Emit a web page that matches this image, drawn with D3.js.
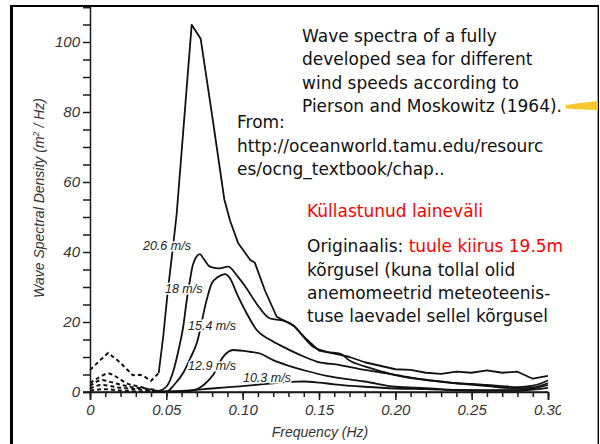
<!DOCTYPE html>
<html>
<head>
<meta charset="utf-8">
<script src="https://cdn.jsdelivr.net/npm/d3@7"></script>
<style>
    body { margin: 0; background: #fff; }
    svg { display: block; }
    .note { font-family: "DejaVu Sans", sans-serif; font-size: 17px; fill: #111; }
    .red { fill: #ff0000; }
</style>
</head>
<body>
<div class="chart"></div>
<script>
// wind speed of each curve
var speeds = ["20.6 m/s", "18 m/s", "15.4 m/s", "12.9 m/s", "10.3 m/s"];

// frequency (Hz) and spectral density (m^2/Hz)
var freq206 = [0, 0.006, 0.0118, 0.018, 0.023, 0.028, 0.033, 0.036, 0.040, 0.045, 0.048, 0.051, 0.0545, 0.0568, 0.0666, 0.0725, 0.080, 0.088, 0.0917, 0.097, 0.105, 0.108, 0.1146, 0.1223, 0.129, 0.134, 0.142, 0.150, 0.164, 0.17, 0.18, 0.19, 0.20, 0.21, 0.22, 0.23, 0.24, 0.25, 0.26, 0.27, 0.28, 0.29, 0.30];
var dens206 = [6.3, 8.8, 11.1, 9.1, 7, 4.8, 4.9, 4.3, 3.2, 5.4, 16, 29, 42, 51, 104.9, 100.9, 79, 55, 49, 42.6, 37.7, 36.9, 29, 21.5, 20, 18.7, 15, 11.8, 10.6, 10, 8.5, 7.5, 6.5, 6.3, 5.5, 5.2, 5.8, 5.5, 6.2, 5.5, 5.8, 3.8, 4.6];

var freq18 = [0, 0.006, 0.012, 0.017, 0.024, 0.033, 0.040, 0.045, 0.050, 0.0546, 0.058, 0.061, 0.0633, 0.0655, 0.0675, 0.072, 0.0742, 0.0786, 0.084, 0.0906, 0.096, 0.1026, 0.109, 0.1179, 0.1266, 0.1331, 0.1397, 0.1462, 0.155, 0.1637, 0.17, 0.18, 0.19, 0.20, 0.21, 0.22, 0.23, 0.24, 0.25, 0.26, 0.27, 0.28, 0.29, 0.30];
var dens18 = [2.5, 4.2, 5.3, 4.4, 2.5, 1.5, 0.6, 0.3, 1.5, 6, 12, 18.5, 26, 32, 36.5, 39.4, 38.2, 35.8, 35.3, 35.8, 33.4, 29.6, 25.3, 21, 20.4, 19.1, 15.8, 12.9, 11.5, 11, 9, 7.3, 6, 4.8, 4, 3.5, 3, 2.5, 2.3, 2, 1.7, 1.4, 1.8, 3.3];

var freq154 = [0, 0.0077, 0.013, 0.021, 0.029, 0.040, 0.045, 0.0502, 0.055, 0.0611, 0.0655, 0.0699, 0.0764, 0.0797, 0.084, 0.0884, 0.0917, 0.0961, 0.1026, 0.1092, 0.1179, 0.1266, 0.1375, 0.1485, 0.1637, 0.18, 0.20, 0.22, 0.24, 0.26, 0.28, 0.29, 0.30];
var dens154 = [1.7, 3.4, 2.9, 2.0, 1.3, 0.8, 0.2, 0.1, 2, 5.5, 9.5, 13.9, 26.3, 31, 32.9, 33.7, 32.5, 28.2, 22.5, 17.7, 14.9, 12.9, 10.6, 8.7, 7.7, 6.3, 4.9, 3.4, 2.5, 1.7, 1.0, 1.3, 2.5];

var freq129 = [0, 0.0077, 0.018, 0.031, 0.040, 0.045, 0.060, 0.068, 0.075, 0.0807, 0.0873, 0.0938, 0.1048, 0.1113, 0.12, 0.1288, 0.142, 0.155, 0.17, 0.18, 0.20, 0.22, 0.24, 0.26, 0.28, 0.29, 0.30];
var dens129 = [1, 2, 1.3, 0.8, 0.3, 0.1, 0.2, 0.5, 2.2, 4.9, 10.1, 12, 11.5, 11, 9.1, 7.7, 6, 4.6, 3.6, 3, 1.5, 1.1, 0.6, 0.5, 0.5, 1.0, 2.0];

var freq103 = [0, 0.01, 0.02, 0.030, 0.045, 0.06, 0.08, 0.10, 0.12, 0.13, 0.14, 0.15, 0.16, 0.18, 0.20, 0.22, 0.24, 0.26, 0.28, 0.30];
var dens103 = [0.4, 0.8, 0.4, 0.2, 0.1, 0.3, 1.0, 1.7, 2.5, 2.9, 3.0, 2.7, 2.2, 1.5, 1.0, 0.8, 0.5, 0.4, 0.4, 1.2];

// where each curve label sits (frequency, density)
var labelFreq = [0.0347, 0.0491, 0.0642, 0.0642, 0.1002];
var labelDens = [40.6, 28.3, 17.7, 6.3, 2.9];

// below this frequency the curves are dashed
var dashedBelow = 0.045;

var yLabels = [0, 20, 40, 60, 80, 100];
var xLabels = [0, 0.05, 0.10, 0.15, 0.20, 0.25, 0.30];

var axisFont = '"Liberation Sans", Arial, sans-serif';

var svg = d3.select(".chart")
    .append("svg")
    .attr("width", 600)
    .attr("height", 444);

// slide frame
svg.append("line").attr("x1", 11.5).attr("x2", 11.5).attr("y1", 5).attr("y2", 444)
    .attr("stroke", "#000").attr("stroke-width", 3);
svg.append("line").attr("x1", 10).attr("x2", 599).attr("y1", 6).attr("y2", 6)
    .attr("stroke", "#000").attr("stroke-width", 2.2);
svg.append("line").attr("x1", 598.3).attr("x2", 598.3).attr("y1", 6).attr("y2", 444)
    .attr("stroke", "#000").attr("stroke-width", 1.4);

// the figure itself is cut off on the right
svg.append("clipPath").attr("id", "figClip")
    .append("rect").attr("x", 0).attr("y", 0).attr("width", 561).attr("height", 444);

var fig = svg.append("g").attr("clip-path", "url(#figClip)");

// scales
var x = d3.scaleLinear().domain([0, 0.30]).range([90, 548]);
var y = d3.scaleLinear().domain([0, 110]).range([392, 7]);

// minor x ticks
fig.append("g")
    .attr("transform", "translate(0,392)")
    .call(d3.axisBottom(x).ticks(30).tickSize(5).tickFormat(""))
    .call(g => g.select(".domain").remove());

// major x ticks with labels
var xAxis = fig.append("g")
    .attr("transform", "translate(0,392)")
    .call(d3.axisBottom(x).tickValues(xLabels).tickSize(8).tickPadding(4)
        .tickFormat(d => d === 0 ? "0" : d3.format(".2f")(d)));

// y axis, a tick every 5
var yAxis = fig.append("g")
    .attr("transform", "translate(90,0)")
    .call(d3.axisLeft(y).ticks(22).tickSize(7).tickPadding(3)
        .tickFormat(d => yLabels.indexOf(d) >= 0 ? d : ""));

fig.selectAll(".domain, .tick line").attr("stroke", "#1a1a1a").attr("stroke-width", 1.5);
fig.selectAll(".tick text")
    .style("font-family", axisFont)
    .style("font-style", "italic")
    .style("font-size", "15px")
    .style("fill", "#333");

// x axis line runs out to the left tick of the y axis
fig.append("line").attr("x1", 83).attr("x2", x(0.30)).attr("y1", y(0)).attr("y2", y(0))
    .attr("stroke", "#1a1a1a").attr("stroke-width", 1.5);

// axis titles
svg.append("text")
    .attr("transform", "translate(44,198) rotate(-90)")
    .attr("text-anchor", "middle")
    .style("font-family", axisFont)
    .style("font-style", "italic")
    .style("font-size", "14px")
    .style("fill", "#333")
    .html("Wave Spectral Density (m<tspan dy='-5' font-size='9px'>2</tspan><tspan dy='5'> / Hz)</tspan>");

svg.append("text")
    .attr("x", 320)
    .attr("y", 437)
    .attr("text-anchor", "middle")
    .style("font-family", axisFont)
    .style("font-style", "italic")
    .style("font-size", "14px")
    .style("fill", "#333")
    .text("Frequency (Hz)");

// curves
var series = [
    { f: freq206, v: dens206, curve: d3.curveLinear },
    { f: freq18, v: dens18, curve: d3.curveMonotoneX },
    { f: freq154, v: dens154, curve: d3.curveMonotoneX },
    { f: freq129, v: dens129, curve: d3.curveMonotoneX },
    { f: freq103, v: dens103, curve: d3.curveMonotoneX }
];

series.forEach(function (s) {
    var pts = s.f.map((f, i) => [f, s.v[i]]);
    var low = pts.filter(p => p[0] <= dashedBelow);
    var high = pts.filter(p => p[0] >= dashedBelow);
    var line = d3.line().x(p => x(p[0])).y(p => y(p[1])).curve(s.curve);

    fig.append("path")
        .attr("d", line(low))
        .attr("fill", "none")
        .attr("stroke", "#111")
        .attr("stroke-width", 2)
        .attr("stroke-dasharray", "4,3");

    fig.append("path")
        .attr("d", line(high))
        .attr("fill", "none")
        .attr("stroke", "#111")
        .attr("stroke-width", 1.8)
        .attr("stroke-linejoin", "round");
});

// curve labels
fig.selectAll(".speedLabel")
    .data(speeds)
    .enter()
    .append("text")
    .attr("class", "speedLabel")
    .attr("x", (d, i) => x(labelFreq[i]))
    .attr("y", (d, i) => y(labelDens[i]))
    .style("font-family", axisFont)
    .style("font-style", "italic")
    .style("font-size", "12.5px")
    .style("fill", "#222")
    .attr("stroke", "#fff")
    .attr("stroke-width", 3)
    .attr("paint-order", "stroke")
    .text(d => d);

// yellow highlighter stroke
svg.append("path")
    .attr("d", "M566,105 L580,103 L598,101 L598,110 L580,109.5 L566,108.5 Z")
    .attr("fill", "#f5c21a")
    .attr("opacity", 0.9);

// notes on the slide
var notes = svg.append("g").attr("class", "note");

var title = ["Wave spectra of a fully", "developed sea for different", "wind speeds according to", "Pierson and Moskowitz (1964)."];
title.forEach(function (t, i) {
    notes.append("text").attr("x", 302).attr("y", 42 + i * 23.4).text(t);
});

var source = ["From:", "http://oceanworld.tamu.edu/resourc", "es/ocng_textbook/chap.."];
source.forEach(function (t, i) {
    notes.append("text").attr("x", 237).attr("y", 128 + i * 23.7).text(t);
});

notes.append("text").attr("class", "note red").attr("x", 307).attr("y", 217).text("Küllastunud laineväli");

var orig = notes.append("text").attr("x", 307).attr("y", 252);
orig.append("tspan").text("Originaalis: ");
orig.append("tspan").attr("class", "red").text("tuule kiirus 19.5m");

var more = ["kõrgusel (kuna tollal olid", "anemomeetrid meteoteenis-", "tuse laevadel sellel kõrgusel"];
more.forEach(function (t, i) {
    notes.append("text").attr("x", 307).attr("y", 275.5 + i * 23.4).text(t);
});
</script>
</body>
</html>
